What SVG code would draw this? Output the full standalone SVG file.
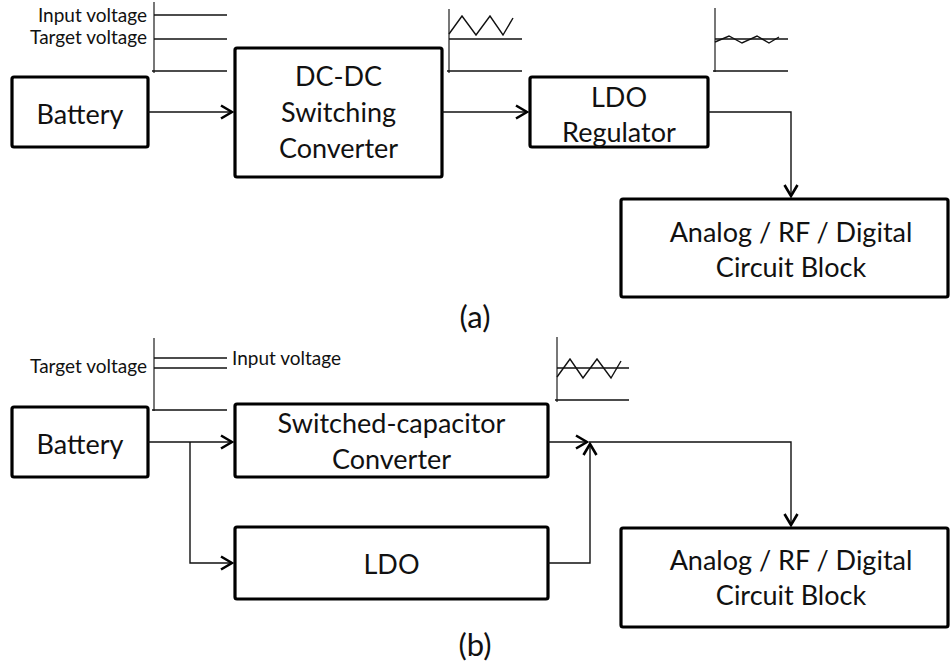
<svg xmlns="http://www.w3.org/2000/svg" width="952" height="666" viewBox="0 0 952 666">
<defs>
<marker id="arr" viewBox="-14 -8 16 16" refX="0" refY="0" markerWidth="16" markerHeight="16" markerUnits="userSpaceOnUse" orient="auto">
<path d="M-11,-6.5 L0,0 L-11,6.5" fill="none" stroke="#000" stroke-width="2.6" stroke-linejoin="miter"/>
</marker>
</defs>
<style>
.box{fill:#fff;stroke:#000;stroke-width:3.2}
.t{font-family:Lato,"Liberation Sans",sans-serif;font-size:27px;fill:#111;text-anchor:middle}
.lbl{font-family:Lato,"Liberation Sans",sans-serif;font-size:31px;fill:#111;text-anchor:middle}
.s{font-family:Lato,"Liberation Sans",sans-serif;font-size:19px;fill:#111}
.ax{stroke:#555;stroke-width:1.6;fill:none}
.hl{stroke:#111;stroke-width:1.4;fill:none}
.wv{stroke:#111;stroke-width:1.4;fill:none;stroke-linejoin:miter}
.c{stroke:#111;stroke-width:1.4;fill:none}
</style>
<rect width="952" height="666" fill="#fff"/>

<!-- (a) insets -->
<g id="inset-a1">
<line class="ax" x1="154" y1="2" x2="154" y2="73"/>
<line class="hl" x1="154" y1="15" x2="227" y2="15"/>
<line class="hl" x1="154" y1="39" x2="227" y2="39"/>
<line class="hl" x1="152" y1="71" x2="227" y2="71"/>
<text class="s" x="147" y="21.5" text-anchor="end">Input voltage</text>
<text class="s" x="147" y="44" text-anchor="end">Target voltage</text>
</g>
<g id="inset-a2">
<line class="ax" x1="449" y1="9" x2="449" y2="73"/>
<line class="hl" x1="449" y1="39" x2="522" y2="39"/>
<line class="hl" x1="447" y1="71" x2="522" y2="71"/>
<polyline class="wv" points="449,34 462,16 476,35 490,16 503,35 513,18"/>
</g>
<g id="inset-a3">
<line class="ax" x1="715" y1="8" x2="715" y2="72"/>
<line class="hl" x1="715" y1="39" x2="788" y2="39"/>
<line class="hl" x1="713" y1="71" x2="788" y2="71"/>
<polyline class="wv" points="715,42 729,36 742,43 757,36 769,43 779,37"/>
</g>

<!-- (a) nodes -->
<g id="battery-a">
<rect class="box" x="12" y="77" width="136" height="70" rx="2"/>
<text class="t" x="80" y="124">Battery</text>
</g>
<g id="dcdc">
<rect class="box" x="235" y="48" width="207" height="129" rx="2"/>
<text class="t" x="338.5" y="86">DC-DC</text>
<text class="t" x="338.5" y="122">Switching</text>
<text class="t" x="338.5" y="158">Converter</text>
</g>
<g id="ldo-reg">
<rect class="box" x="530" y="77" width="178" height="70" rx="2"/>
<text class="t" x="619" y="107">LDO</text>
<text class="t" x="619" y="142">Regulator</text>
</g>
<g id="analog-a">
<rect class="box" x="621" y="199" width="327" height="98" rx="2"/>
<text class="t" x="791" y="242">Analog / RF / Digital</text>
<text class="t" x="791" y="277">Circuit Block</text>
</g>
<text id="label-a" class="lbl" x="475" y="328">(a)</text>

<!-- (b) insets -->
<g id="inset-b1">
<line class="ax" x1="154" y1="338" x2="154" y2="411"/>
<line class="hl" x1="154" y1="358" x2="227" y2="358"/>
<line class="hl" x1="154" y1="368" x2="227" y2="368"/>
<line class="hl" x1="152" y1="410" x2="227" y2="410"/>
<text class="s" x="147" y="373" text-anchor="end">Target voltage</text>
<text class="s" x="232" y="365">Input voltage</text>
</g>
<g id="inset-b2">
<line class="ax" x1="557" y1="337" x2="557" y2="402"/>
<line class="hl" x1="557" y1="368" x2="629" y2="368"/>
<line class="hl" x1="555" y1="400" x2="629" y2="400"/>
<polyline class="wv" points="557,377 570,359 583,378 597,359 611,378 621,361"/>
</g>

<!-- (b) nodes -->
<g id="battery-b">
<rect class="box" x="12" y="407" width="136" height="70" rx="2"/>
<text class="t" x="80" y="454">Battery</text>
</g>
<g id="sc-conv">
<rect class="box" x="235" y="404" width="313" height="73" rx="2"/>
<text class="t" x="391.5" y="433">Switched-capacitor</text>
<text class="t" x="391.5" y="469">Converter</text>
</g>
<g id="ldo-b">
<rect class="box" x="235" y="527" width="313" height="72" rx="2"/>
<text class="t" x="391.5" y="574">LDO</text>
</g>
<g id="analog-b">
<rect class="box" x="621" y="528" width="327" height="99" rx="2"/>
<text class="t" x="791" y="570">Analog / RF / Digital</text>
<text class="t" x="791" y="605">Circuit Block</text>
</g>
<text id="label-b" class="lbl" x="475" y="656">(b)</text>

<!-- connectors -->
<g id="connectors">
<line class="c" x1="148" y1="112" x2="232" y2="112" marker-end="url(#arr)"/>
<line class="c" x1="442" y1="112" x2="527" y2="112" marker-end="url(#arr)"/>
<polyline class="c" points="708,112 791,112 791,196" marker-end="url(#arr)"/>

<line class="c" x1="148" y1="442" x2="232" y2="442" marker-end="url(#arr)"/>
<polyline class="c" points="190,442 190,563 232,563" marker-end="url(#arr)"/>
<line class="c" x1="548" y1="442" x2="587" y2="442" marker-end="url(#arr)"/>
<polyline class="c" points="548,563 590,563 590,444" marker-end="url(#arr)"/>
<polyline class="c" points="589,442 791,442 791,525" marker-end="url(#arr)"/>
</g>
</svg>
